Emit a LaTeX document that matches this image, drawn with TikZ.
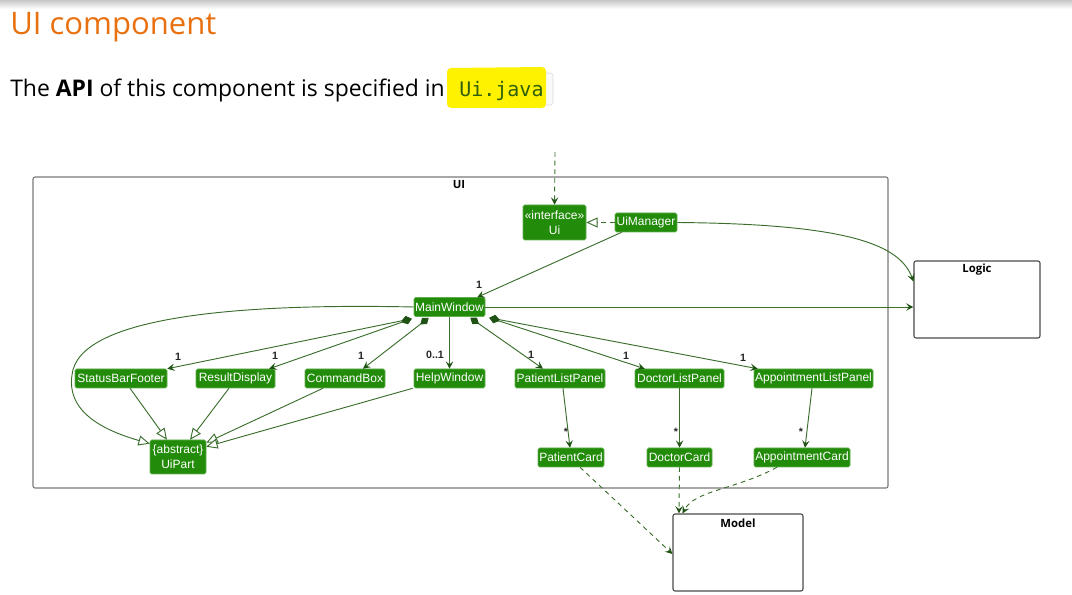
\documentclass[tikz,border=0pt]{standalone}
\usepackage{fontspec}
\setmainfont{Open Sans}
\newfontfamily\arialf{Liberation Sans}
\newfontfamily\monof{DejaVu Sans Mono}
\usetikzlibrary{arrows.meta,calc}
\definecolor{nodegreen}{HTML}{228B0A}
\definecolor{nodeborder}{HTML}{5FAF4A}
\definecolor{linegreen}{HTML}{3B6E2C}
\definecolor{tipgreen}{HTML}{1F5214}
\definecolor{orangeT}{HTML}{E8700F}
\definecolor{codegreen}{HTML}{2F5F0C}
\definecolor{hlyellow}{HTML}{FFF200}
\definecolor{pkggray}{HTML}{7A7A7A}
\definecolor{boxgray}{HTML}{4A4A4A}
\tikzset{
  myarr/.tip={Stealth[length=5.5pt,width=5.5pt,inset=2.2pt,color=tipgreen]},
  mytri/.tip={Triangle[open,length=8.5pt,width=7.5pt,color=linegreen,fill=white]},
  mydiam/.tip={Diamond[length=8pt,width=6pt,color=tipgreen]},
  cls/.style={draw=nodeborder, line width=0.4pt, fill=nodegreen, text=white,
    font=\arialf\fontsize{9}{11.2}\selectfont, rounded corners=1.2pt, inner sep=0pt,
    minimum width=#1*0.75pt, minimum height=19*0.75pt, align=center},
  pkg/.style={draw=#1, line width=0.8pt, rounded corners=1.5pt, inner sep=0pt},
  pkglbl/.style={font=\bfseries\fontsize{8.5}{9}\selectfont, inner sep=0pt, text=black},
  lbl/.style={font=\arialf\bfseries\fontsize{8}{9}\selectfont, inner sep=0pt, text=black!85},
  assoc/.style={draw=linegreen, line width=0.7pt},
  dep/.style={draw=linegreen, line width=0.7pt, dash pattern=on 3.5pt off 3pt},
}
\begin{document}
\begin{tikzpicture}[x=0.75pt,y=-0.75pt]
\useasboundingbox (0,0) rectangle (1072,595);
\shade[top color=black!22, bottom color=white] (0,0) rectangle (1072,9);

% heading
\node[anchor=base west, inner sep=0pt, text=orangeT, font=\fontsize{23.3}{26}\selectfont] (title) at (10,35) {UI component};
\node[anchor=base west, inner sep=0pt, font=\fontsize{17.2}{20}\selectfont] (intro) at (10,97) {The \textbf{API} of this component is specified in};
\draw[draw=black!15, rounded corners=2pt, fill=black!2] (450,73) rectangle (553,105);
\fill[hlyellow, rounded corners=3pt] (447,68) -- (546,67) -- (546,108) -- (447,108) -- cycle;
\node[anchor=base west, inner sep=0pt, text=codegreen, font=\monof\fontsize{15}{17}\selectfont] (code) at (459,97) {Ui.java};

% packages
\node[pkg=pkggray, minimum width=855*0.75pt, minimum height=311*0.75pt] (uipkg) at (460.5,332.5) {};
\node[pkglbl] (uilbl) at (459,185) {UI};
\node[pkg=boxgray, minimum width=126*0.75pt, minimum height=77*0.75pt] (logic) at (977,299.5) {};
\node[pkglbl] (logiclbl) at (977,270) {Logic};
\node[pkg=boxgray, minimum width=130*0.75pt, minimum height=77*0.75pt] (model) at (738,552.5) {};
\node[pkglbl] (modellbl) at (738,523) {Model};

% classes
\node[cls=63, minimum height=35*0.75pt] (ui) at (554.5,222.5) {«interface»\\Ui};
\node[cls=62] (um) at (646,222.5) {UiManager};
\node[cls=71] (mw) at (449.5,307) {MainWindow};
\node[cls=92] (sbf) at (121,378.5) {StatusBarFooter};
\node[cls=79] (rd) at (235.5,378.5) {ResultDisplay};
\node[cls=80] (cb) at (345,378.5) {CommandBox};
\node[cls=71] (hw) at (449.5,378.5) {HelpWindow};
\node[cls=90] (plp) at (560,378.5) {PatientListPanel};
\node[cls=89] (dlp) at (679.5,378.5) {DoctorListPanel};
\node[cls=119] (alp) at (813.5,378.5) {AppointmentListPanel};
\node[cls=66] (pc) at (571,457.5) {PatientCard};
\node[cls=65] (dc) at (679.5,457.5) {DoctorCard};
\node[cls=96] (ac) at (802,457.5) {AppointmentCard};
\node[cls=56, minimum height=34*0.75pt] (up) at (178,457) {\{abstract\}\\UiPart};

% external dependency into Ui
\coordinate (apiin) at (555,152);
\draw[dep, -{myarr}] (apiin) -- (ui.north);

% realization
\draw[dep, -{mytri}] (um.west) -- (ui.east);

% UiManager -> MainWindow, Logic
\draw[assoc, -{myarr}] ($(um.south west)+(7,0)$) -- ($(mw.north east)+(-8,0)$);
\node[lbl] (l0) at (479,285) {1};
\draw[assoc, -{myarr}] (um.east) .. controls (850,224) and (900,245) .. ($(logic.north west)+(0,21)$);
\draw[assoc, -{myarr}] (mw.east) -- ($(logic.west)+(0,7.5)$);

% compositions from MainWindow
\draw[assoc, {mydiam}-{myarr}] ($(mw.south west)+(-2,2)$) -- (sbf.north east);
\draw[assoc, {mydiam}-{myarr}] ($(mw.south west)+(-2,2)$) -- ($(rd.north east)+(-6,0)$);
\draw[assoc, {mydiam}-{myarr}] ($(mw.south west)+(15,1)$) -- ($(cb.north)+(18,0)$);
\draw[assoc, -{myarr}] (mw.south) -- (hw.north);
\draw[assoc, {mydiam}-{myarr}] ($(mw.south east)+(-15,1)$) -- ($(plp.north)+(-17,0)$);
\draw[assoc, {mydiam}-{myarr}] ($(mw.south east)+(4,1)$) -- ($(dlp.north west)+(10,0)$);
\draw[assoc, {mydiam}-{myarr}] ($(mw.south east)+(4,1)$) -- ($(alp.north west)+(4,0)$);
\node[lbl] (l1) at (178,357) {1};
\node[lbl] (l2) at (275,356) {1};
\node[lbl] (l3) at (361,356) {1};
\node[lbl] (l4) at (435,355) {0..1};
\node[lbl] (l5) at (531,355) {1};
\node[lbl] (l6) at (626,356) {1};
\node[lbl] (l7) at (743,358) {1};

% generalizations to UiPart
\draw[assoc, -{mytri}] ($(sbf.south)+(9,0)$) -- ($(up.north)+(-11,0)$);
\draw[assoc, -{mytri}] ($(rd.south)+(-6.5,0)$) -- ($(up.north)+(12,0)$);
\draw[assoc, -{mytri}] ($(cb.south)+(-22,0)$) -- ($(up.north east)+(0,3)$);
\draw[assoc, -{mytri}] ($(hw.south west)+(-1,0)$) -- ($(up.north east)+(0,7)$);
\draw[assoc, -{mytri}] (mw.west) .. controls (230,303) and (78,318) .. (72,375)
   .. controls (66,415) and (110,432) .. ($(up.north west)+(0,4)$);

% panels to cards
\draw[assoc, -{myarr}] ($(plp.south)+(3,0)$) -- ($(pc.north)+(-1,0)$);
\draw[assoc, -{myarr}] (dlp.south) -- (dc.north);
\draw[assoc, -{myarr}] ($(alp.south)+(-1.5,0)$) -- ($(ac.north)+(3,0)$);
\node[lbl] (s1) at (566,432) {*};
\node[lbl] (s2) at (676,432) {*};
\node[lbl] (s3) at (801,432) {*};

% cards to Model
\draw[dep, -{myarr}] ($(pc.south)+(9,0)$) -- ($(model.west)+(0,1.5)$);
\draw[dep, -{myarr}] (dc.south) -- ($(model.north west)+(6.5,0)$);
\draw[dep, -{myarr}] ($(ac.south)+(-25,0)$) .. controls (735,490) and (695,490) .. ($(model.north west)+(10,0)$);
\end{tikzpicture}
\end{document}
